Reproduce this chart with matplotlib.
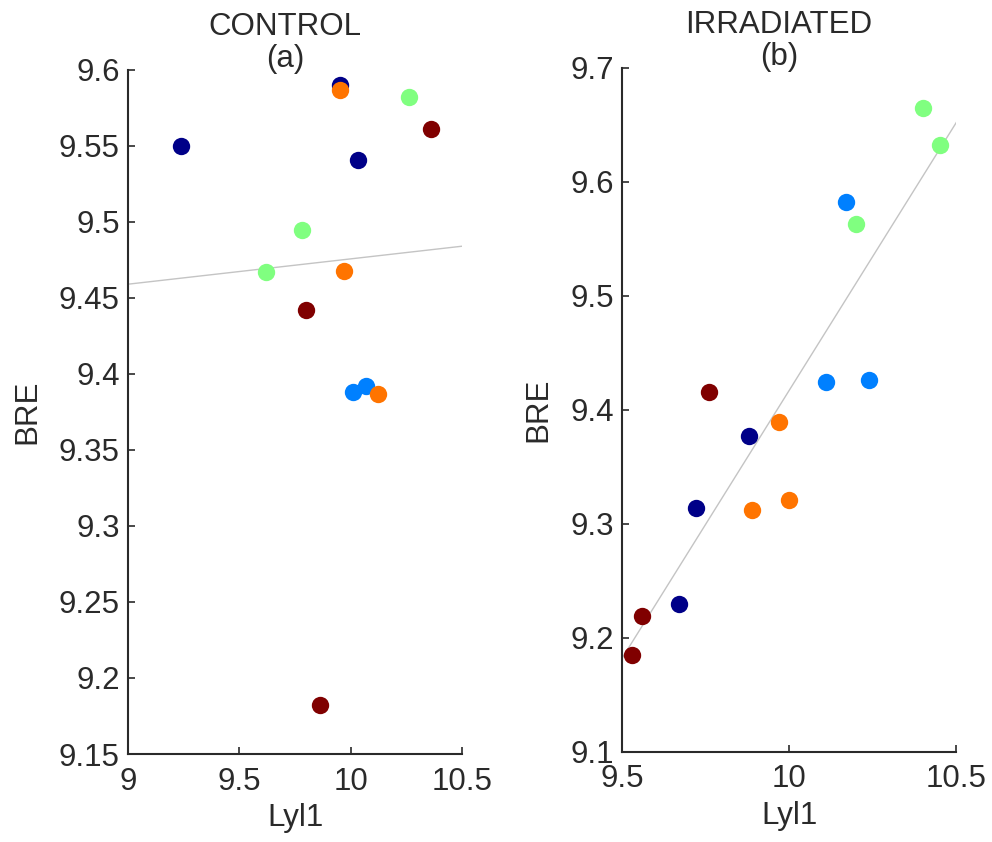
import numpy as np
from matplotlib import pyplot as plt

plt.rcParams['font.family'] = ['Liberation Sans', 'DejaVu Sans']

# group order and colours (jet-like, low to high)
groups = ['g1', 'g2', 'g3', 'g4', 'g5']
colors = ['#000088', '#0080ff', '#80ff80', '#ff7400', '#800000']

# CONTROL panel: Lyl1 (x) and BRE (y) per group
ctrl_x = {
    'g1': [9.24, 9.95, 10.03],
    'g2': [10.01, 10.07],
    'g3': [10.26, 9.78, 9.62],
    'g4': [9.95, 9.97, 10.12],
    'g5': [10.36, 9.80, 9.86],
}
ctrl_y = {
    'g1': [9.550, 9.590, 9.541],
    'g2': [9.388, 9.392],
    'g3': [9.582, 9.495, 9.467],
    'g4': [9.587, 9.468, 9.387],
    'g5': [9.561, 9.442, 9.182],
}
# IRRADIATED panel
irr_x = {
    'g1': [9.88, 9.72, 9.67],
    'g2': [10.17, 10.11, 10.24],
    'g3': [10.40, 10.45, 10.20],
    'g4': [9.97, 9.89, 10.00],
    'g5': [9.76, 9.56, 9.53],
}
irr_y = {
    'g1': [9.377, 9.314, 9.230],
    'g2': [9.582, 9.424, 9.426],
    'g3': [9.665, 9.632, 9.563],
    'g4': [9.389, 9.312, 9.321],
    'g5': [9.416, 9.219, 9.185],
}

# linear fits (slope, intercept) as drawn
ctrl_fit = (0.01667, 9.309)
irr_fit = (0.47, 4.717)

fig = plt.figure(figsize=(9.92, 8.42), dpi=100)
ax1 = fig.add_axes([0.129, 0.1045, 0.337, 0.8125])
ax2 = fig.add_axes([0.627, 0.107, 0.337, 0.8125])

panels = [
    (ax1, ctrl_x, ctrl_y, ctrl_fit, (9, 10.5), (9.15, 9.6),
     [9, 9.5, 10, 10.5], np.arange(9.15, 9.601, 0.05), 'CONTROL\n(a)'),
    (ax2, irr_x, irr_y, irr_fit, (9.5, 10.5), (9.1, 9.7),
     [9.5, 10, 10.5], np.arange(9.1, 9.701, 0.1), 'IRRADIATED\n(b)'),
]

txt = '#2a2a2a'
fs = 22.5
for ax, xs, ys, fit, xl, yl, xt, yt, title in panels:
    xx = np.array(xl)
    ax.plot(xx, fit[0] * xx + fit[1], color='#c4c4c4', lw=1.0, zorder=1)
    for g, c in zip(groups, colors):
        ax.plot(xs[g], ys[g], 'o', color=c, ms=12.5, mew=0, zorder=2)
    ax.set_xlim(xl)
    ax.set_ylim(yl)
    ax.set_xticks(xt)
    ax.set_yticks(yt)
    ax.set_xticklabels(['%g' % v for v in xt])
    ax.set_yticklabels(['%g' % round(v, 2) for v in yt])
    for s in ['top', 'right']:
        ax.spines[s].set_visible(False)
    for s in ['left', 'bottom']:
        ax.spines[s].set_linewidth(1.5)
        ax.spines[s].set_color(txt)
    ax.tick_params(direction='in', length=5, width=1.2, labelsize=fs,
                   colors=txt, pad=6)
    ax.tick_params(axis='x', pad=9)
    ax.set_xlabel('Lyl1', fontsize=fs, color=txt, labelpad=5)
    ax.set_ylabel('BRE', fontsize=fs, color=txt, labelpad=12)
    ax.text(0.47, 1.085, title, transform=ax.transAxes, ha='center', va='top',
            fontsize=fs, color=txt, linespacing=1.12)

plt.savefig('out.png', dpi=100)
